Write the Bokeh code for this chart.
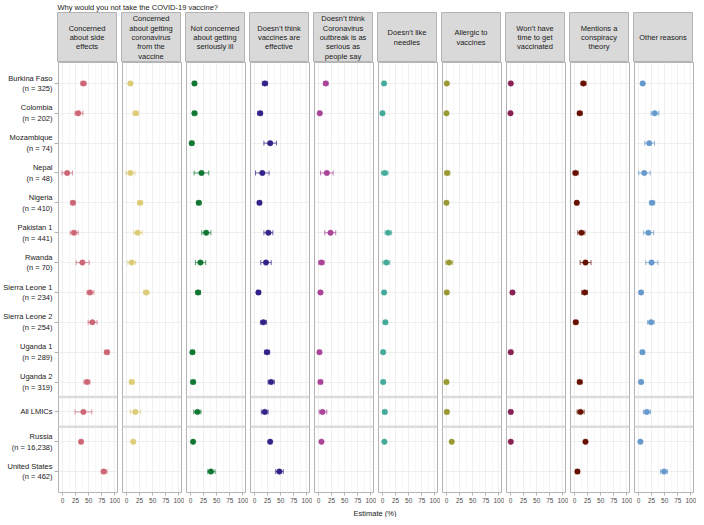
import math
from bokeh.plotting import figure
from bokeh.layouts import column, row
from bokeh.models import FactorRange, Range1d, FixedTicker, Span, ColumnDataSource
from bokeh.embed import file_html
from bokeh.resources import INLINE
from bokeh.core.properties import value

FONT = "Liberation Sans"

# ---------------- data ----------------
countries = ["Burkina Faso", "Colombia", "Mozambique", "Nepal", "Nigeria", "Pakistan 1",
             "Rwanda", "Sierra Leone 1", "Sierra Leone 2", "Uganda 1", "Uganda 2",
             "All LMICs", "Russia", "United States"]
sample_sizes = ["325", "202", "74", "48", "410", "441", "70", "234", "254", "289", "319",
                None, "16,238", "462"]

reasons = [
    "Concerned\nabout side\neffects",
    "Concerned\nabout getting\ncoronavirus\nfrom the\nvaccine",
    "Not concerned\nabout getting\nseriously ill",
    "Doesn\u2019t think\nvaccines are\neffective",
    "Doesn\u2019t think\nCoronavirus\noutbreak is as\nserious as\npeople say",
    "Doesn\u2019t like\nneedles",
    "Allergic to\nvaccines",
    "Won\u2019t have\ntime to get\nvaccinated",
    "Mentions a\nconspiracy\ntheory",
    "Other reasons",
]
colors = ["#CC6677", "#DDCC77", "#117733", "#332288", "#AA4499",
          "#44AA99", "#999933", "#882255", "#661100", "#6699CC"]

x_ticks = [0, 25, 50, 75, 100]
x_minor_ticks = [12.5, 37.5, 62.5, 87.5]

# estimates (%) and 95% CI, country order as above; None = not reported
side_est = [40, 30, None, 9, 20, 22, 38, 52.5, 57, 85, 47, 40, 35.5, 79]
side_lo = [35, 24, None, -1, 16, 15, 26, 47, 49, 80, 41, 24, 33, 74]
side_hi = [45, 39, None, 19, 24, 30, 51, 60, 66, 89, 52.5, 56, 38.5, 85]

fromvac_est = [7.5, 17.6, None, 7.5, 26, 21.4, 10, 37.7, None, None, 10, 17, 13, None]
fromvac_lo = [4.4, 12.6, None, -1, 21, 14, 2.5, 33, None, None, 5.7, 7.5, 11, None]
fromvac_hi = [11, 22.6, None, 16, 31, 30, 17.6, 43, None, None, 14.5, 27, 15, None]

notill_est = [7.6, 7.6, 2.5, 21, 16, 30, 19, 14.6, None, 3.8, 5, 13.3, 5, 39]
notill_lo = [4.4, 3.8, -1, 7, 11.4, 21.5, 9.5, 10, None, 0, 1.3, 6.3, 4, 33]
notill_hi = [11.4, 12, 6.3, 35, 20, 39, 29, 19, None, 7.6, 8.9, 20, 6, 47]

noteff_est = [20, 11, 30, 15, 9.5, 26.6, 22, 7.6, 17, 24, 31.6, 19.6, 30, 47.5]
noteff_lo = [15, 6, 18, 2, 6, 18, 12, 4, 11.4, 19, 26, 13, 28.5, 40.5]
noteff_hi = [25, 15, 42, 28, 13, 35, 32, 11, 23, 29, 38, 26, 31.5, 55]

notser_est = [14, 2.5, None, 16, None, 23, 5.7, 3.8, None, 1.9, 3.8, 7.6, 5.7, None]
notser_lo = [9.5, -0.6, None, 4, None, 12, 0.6, 0.6, None, -1.3, 0, 1.3, 4.5, None]
notser_hi = [18, 5.7, None, 28, None, 33, 10.8, 7, None, 5, 7.6, 16, 7, None]

needles_est = [3, 0, None, 4.4, None, 11, 7.5, 3, 5.6, 1.3, 1.3, 4.4, 3.7, None]
needles_lo = [0.6, -2.5, None, -2, None, 5, 0.6, 0, 2, -2, -2, 0.6, 2.5, None]
needles_hi = [5.6, 2.5, None, 10.6, None, 17.5, 14, 6, 9, 4.4, 4.4, 8, 5, None]

allergic_est = [0.6, 0, None, 1.3, 0, None, 5, 0.6, None, None, 0, 0.6, 10, None]
allergic_lo = [-1.5, -2, None, -3, -2.5, None, -1.3, -2.5, None, None, -3, -2.5, 8.5, None]
allergic_hi = [2.8, 2, None, 6.3, 2.5, None, 12, 3.8, None, None, 3, 4.4, 11.5, None]

notime_est = [0.6, 0, None, None, None, None, None, 3.8, None, 0.6, None, 0.6, 0.6, None]
notime_lo = [-1.5, -2, None, None, None, None, None, 0.6, None, -2.5, None, -2.5, -0.5, None]
notime_hi = [2.8, 2, None, None, None, None, None, 7, None, 3.8, None, 3.8, 1.7, None]

consp_est = [17, 10, None, 1.9, 4.4, 13.3, 21, 19.6, 2.5, None, 10, 11.4, 21, 5.7]
consp_lo = [12.6, 5.7, None, -2.5, 1.3, 6.3, 10.8, 14, -1.3, None, 5.7, 5, 19, 1.9]
consp_hi = [22, 14.5, None, 7, 7.6, 20, 31.6, 25, 6.3, None, 14.5, 18.4, 23, 9.5]

other_est = [8, 31, 20.6, 11, 26, 19, 25, 5, 24, 7.5, 5, 16, 3.7, 49]
other_lo = [5.6, 24, 12, 0.6, 21, 10, 14, 2, 17.5, 3.8, 1.3, 9.4, 2.5, 42]
other_hi = [10.6, 39, 30.6, 22.5, 31, 29, 37, 8, 30, 11, 8, 23, 5, 55.6]

series = [
    (side_est, side_lo, side_hi), (fromvac_est, fromvac_lo, fromvac_hi),
    (notill_est, notill_lo, notill_hi), (noteff_est, noteff_lo, noteff_hi),
    (notser_est, notser_lo, notser_hi), (needles_est, needles_lo, needles_hi),
    (allergic_est, allergic_lo, allergic_hi), (notime_est, notime_lo, notime_hi),
    (consp_est, consp_lo, consp_hi), (other_est, other_lo, other_hi),
]

# ---------------- layout constants ----------------
LEFT_W = 57
GAP_L = 2
GAP_R = 3
FRAME_W = 59
FRAME_H = 430
STRIP_H = 50
BORDER = "#b3b3b3"
GRID = "#ebebeb"
TEXT = "#1a1a1a"

row_labels = [c if n is None else f"{c}\n(n = {n})" for c, n in zip(countries, sample_sizes)]
y_factors = row_labels[::-1]
y_range = FactorRange(factors=y_factors, range_padding=0.2, range_padding_units="absolute")
x_range = Range1d(-7.6, 105.1)

lmic_idx = y_factors.index(row_labels[countries.index("All LMICs")])
separators = [lmic_idx, lmic_idx + 1]

headers = []
panels = []
for k, (label, col, (est, lo, hi)) in enumerate(zip(reasons, colors, series)):
    first = k == 0
    ml = LEFT_W if first else GAP_L

    # ---- strip ----
    h = figure(frame_width=FRAME_W, frame_height=STRIP_H,
               x_range=FactorRange(factors=[label]), y_range=FactorRange(factors=[label]),
               x_axis_location=None, y_axis_location=None,
               min_border_left=ml, min_border_right=GAP_R, min_border_top=0, min_border_bottom=0,
               toolbar_location=None, output_backend="svg")
    h.background_fill_color = "#d9d9d9"
    h.border_fill_color = "white"
    h.outline_line_color = BORDER
    h.outline_line_width = 1
    h.grid.visible = False
    h.text(x=[label], y=[label], text=[label], text_align="center", text_baseline="middle",
           text_font=value(FONT), text_font_size="7.5px", text_color=TEXT, text_line_height=1.05)
    headers.append(h)

    # ---- panel ----
    p = figure(frame_width=FRAME_W, frame_height=FRAME_H, x_range=x_range, y_range=y_range,
               y_axis_location="left" if first else None,
               min_border_left=ml, min_border_right=GAP_R, min_border_top=0, min_border_bottom=0,
               toolbar_location=None, output_backend="svg")
    p.background_fill_color = "white"
    p.border_fill_color = "white"
    p.outline_line_color = BORDER
    p.outline_line_width = 1

    p.xaxis.ticker = FixedTicker(ticks=x_ticks, minor_ticks=x_minor_ticks)
    p.xaxis.axis_line_color = None
    p.xaxis.major_tick_line_color = BORDER
    p.xaxis.major_tick_out = 3
    p.xaxis.major_tick_in = 0
    p.xaxis.minor_tick_line_color = None
    p.xaxis.major_label_standoff = 1
    p.xaxis.major_label_text_font = FONT
    p.xaxis.major_label_text_font_size = "6.5px"
    p.xaxis.major_label_text_color = "#4d4d4d"

    if first:
        p.yaxis.axis_line_color = None
        p.yaxis.major_tick_line_color = BORDER
        p.yaxis.major_tick_out = 4
        p.yaxis.major_tick_in = 0
        p.yaxis.major_label_standoff = 2
        p.yaxis.major_label_text_font = FONT
        p.yaxis.major_label_text_font_size = "7.5px"
        p.yaxis.major_label_text_color = TEXT

    p.xgrid.grid_line_color = GRID
    p.xgrid.grid_line_width = 0.8
    p.xgrid.minor_grid_line_color = "#f2f2f2"
    p.xgrid.minor_grid_line_width = 0.6
    p.ygrid.grid_line_color = GRID
    p.ygrid.grid_line_width = 0.8

    for loc in separators:
        p.add_layout(Span(location=loc, dimension="width", line_color="#dcdcdc", line_width=2.5))

    keep = [i for i, e in enumerate(est) if e is not None]
    src = ColumnDataSource(dict(
        row=[row_labels[i] for i in keep],
        est=[est[i] for i in keep],
        lo=[lo[i] for i in keep],
        hi=[hi[i] for i in keep],
    ))
    p.segment(x0="lo", y0="row", x1="hi", y1="row", source=src,
              line_color=col, line_alpha=0.7, line_width=1)
    p.scatter(x="lo", y="row", source=src, marker="dash", angle=math.pi / 2, size=5,
              line_color=col, line_alpha=0.7, line_width=1)
    p.scatter(x="hi", y="row", source=src, marker="dash", angle=math.pi / 2, size=5,
              line_color=col, line_alpha=0.7, line_width=1)
    p.scatter(x="est", y="row", source=src, marker="circle", size=5.5,
              fill_color=col, line_color=col, line_width=0.5)
    panels.append(p)

TOTAL_FRAME = 9 * (GAP_L + FRAME_W + GAP_R) + FRAME_W

t = figure(frame_width=LEFT_W + TOTAL_FRAME, frame_height=1,
           x_axis_location=None, y_axis_location=None, toolbar_location=None,
           output_backend="svg", min_border=0,
           title="Why would you not take the COVID-19 vaccine?")
t.outline_line_color = None
t.grid.visible = False
t.title.text_font = FONT
t.title.text_font_size = "7.5px"
t.title.text_font_style = "normal"
t.title.text_color = TEXT
t.title.standoff = 0
t.title.offset = 0

xl = figure(frame_width=TOTAL_FRAME, frame_height=1,
            x_axis_location=None, y_axis_location=None, toolbar_location=None,
            output_backend="svg", min_border_left=LEFT_W, min_border_right=GAP_R,
            min_border_top=0, min_border_bottom=0,
            title="Estimate (%)", title_location="below")
xl.outline_line_color = None
xl.grid.visible = False
xl.title.align = "center"
xl.title.text_font = FONT
xl.title.text_font_size = "7.5px"
xl.title.text_font_style = "normal"
xl.title.text_color = TEXT
xl.title.standoff = 0
xl.title.offset = 0

layout = column(t, row(*headers, spacing=0), row(*panels, spacing=0), xl, spacing=0)

with open("out.html", "w") as f:
    f.write(file_html(layout, INLINE))
